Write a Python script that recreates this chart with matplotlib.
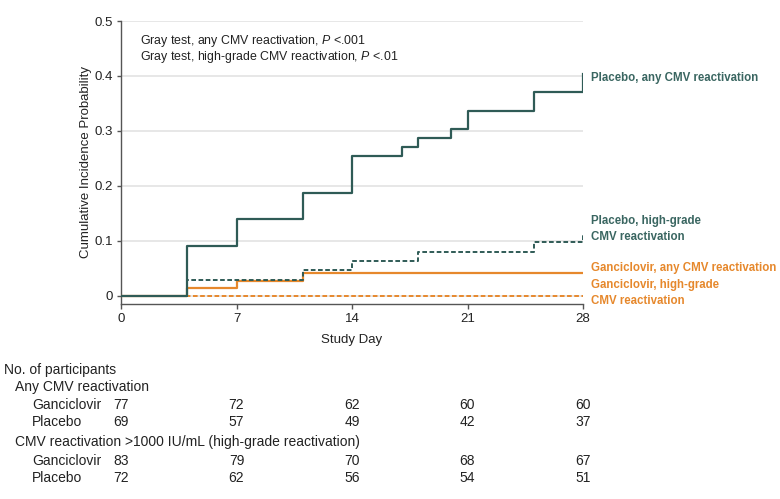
import matplotlib
matplotlib.use("Agg")
import matplotlib.pyplot as plt

plt.rcParams["font.family"] = ["Liberation Sans", "DejaVu Sans"]
plt.rcParams["mathtext.fontset"] = "custom"
plt.rcParams["mathtext.it"] = "Liberation Sans:italic"
plt.rcParams["mathtext.rm"] = "Liberation Sans"

# ---- data ----
plc_any_days = [0, 4, 7, 11, 14, 17, 18, 20, 21, 25, 28]
plc_any_vals = [0, 0.091, 0.139, 0.1875, 0.2535, 0.271, 0.2875, 0.304, 0.337, 0.370, 0.4035]

plc_hg_days = [0, 4, 11, 14, 18, 25, 28]
plc_hg_vals = [0, 0.0295, 0.0464, 0.064, 0.080, 0.097, 0.113]

gan_any_days = [0, 4, 7, 11, 28]
gan_any_vals = [0, 0.014, 0.027, 0.0416, 0.0416]

gan_hg_days = [0, 28]
gan_hg_vals = [0, 0]

xticks = [0, 7, 14, 21, 28]
yticks = [0, 0.1, 0.2, 0.3, 0.4, 0.5]
ytick_labels = ["0", "0.1", "0.2", "0.3", "0.4", "0.5"]

risk_any_gan = [77, 72, 62, 60, 60]
risk_any_plc = [69, 57, 49, 42, 37]
risk_hg_gan = [83, 79, 70, 68, 67]
risk_hg_plc = [72, 62, 56, 54, 51]

TEAL = "#2f5b56"
ORANGE = "#e6882c"
LABEL_TEAL = "#3a6661"

W, H = 780, 499
fig = plt.figure(figsize=(W / 100, H / 100), dpi=100)

def fx(px):
    return px / W

def fy(py):
    return 1 - py / H

ax_left, ax_right, ax_top, ax_bot = 121, 583, 21, 304
ax = fig.add_axes([fx(ax_left), fy(ax_bot), (ax_right - ax_left) / W, (ax_bot - ax_top) / H])

ax.set_xlim(0, 28)
ax.set_ylim(-0.015, 0.5)

for y in yticks:
    ax.axhline(y, color="#e3e3e3", lw=1.2, zorder=0)

dash = (0, (2.4, 1.3))
ax.plot(gan_hg_days, gan_hg_vals, drawstyle="steps-post", color=ORANGE, lw=1.4, ls=dash, zorder=3)
ax.plot(gan_any_days, gan_any_vals, drawstyle="steps-post", color=ORANGE, lw=1.6, zorder=4)
ax.plot(plc_hg_days, plc_hg_vals, drawstyle="steps-post", color=TEAL, lw=1.4, ls=dash, zorder=4)
ax.plot(plc_any_days, plc_any_vals, drawstyle="steps-post", color=TEAL, lw=1.6, zorder=5)

for s in ["top", "right"]:
    ax.spines[s].set_visible(False)
for s in ["left", "bottom"]:
    ax.spines[s].set_color("#555555")
    ax.spines[s].set_linewidth(1.0)

ax.set_xticks(xticks)
ax.set_xticklabels([str(t) for t in xticks])
ax.set_yticks(yticks)
ax.set_yticklabels(ytick_labels)
ax.tick_params(axis="both", colors="#555555", labelcolor="#222222", labelsize=9.5, width=1.0)
ax.tick_params(axis="y", length=3, pad=2.5)
ax.tick_params(axis="x", length=3.6, pad=3)

ax.set_xlabel("Study Day", fontsize=9.5, color="#222222", labelpad=6)
ax.set_ylabel("Cumulative Incidence Probability", fontsize=9.5, color="#222222", labelpad=2)

# annotation
fig.text(fx(140), fy(41), r"Gray test, any CMV reactivation, $\it{P}$ <.001", fontsize=8.9, color="#222222", va="center")
fig.text(fx(140), fy(57), r"Gray test, high-grade CMV reactivation, $\it{P}$ <.01", fontsize=8.9, color="#222222", va="center")

# right labels
lab_font = dict(fontsize=8.3, fontweight="bold", va="center")
fig.text(fx(591), fy(78), "Placebo, any CMV reactivation", color=LABEL_TEAL, **lab_font)
fig.text(fx(591), fy(221), "Placebo, high-grade", color=LABEL_TEAL, **lab_font)
fig.text(fx(591), fy(237), "CMV reactivation", color=LABEL_TEAL, **lab_font)
fig.text(fx(591), fy(268), "Ganciclovir, any CMV reactivation", color=ORANGE, **lab_font)
fig.text(fx(591), fy(285), "Ganciclovir, high-grade", color=ORANGE, **lab_font)
fig.text(fx(591), fy(301), "CMV reactivation", color=ORANGE, **lab_font)

# risk table
tfont = dict(fontsize=10, color="#222222", va="center")
fig.text(fx(4), fy(370), "No. of participants", **tfont)
fig.text(fx(15), fy(387), "Any CMV reactivation", **tfont)
fig.text(fx(32), fy(405), "Ganciclovir", **tfont)
fig.text(fx(32), fy(422), "Placebo", **tfont)
fig.text(fx(15), fy(442), "CMV reactivation >1000 IU/mL (high-grade reactivation)", **tfont)
fig.text(fx(32), fy(461), "Ganciclovir", **tfont)
fig.text(fx(32), fy(478), "Placebo", **tfont)

rows = [(405, risk_any_gan), (422, risk_any_plc), (461, risk_hg_gan), (478, risk_hg_plc)]
for py, vals in rows:
    for d, v in zip(xticks, vals):
        xd = ax.transData.transform((d, 0))[0]
        xf = fig.transFigure.inverted().transform((xd, 0))[0]
        fig.text(xf, fy(py), str(v), ha="center", **tfont)

fig.savefig("out.png", dpi=100, facecolor="white")
